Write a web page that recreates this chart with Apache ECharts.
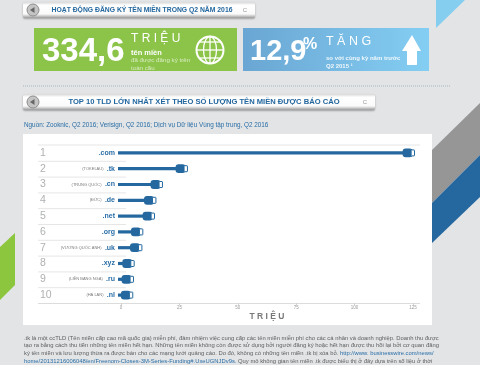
<!DOCTYPE html>
<html><head><meta charset="utf-8">
<script src="https://cdn.jsdelivr.net/npm/echarts@6/dist/echarts.min.js"></script>
<style>html,body{margin:0;padding:0;background:#e2e4e6}#c{width:480px;height:365px}</style></head>
<body><div id="c"></div>
<script>
var ranks = ['1','2','3','4','5','6','7','8','9','10'];
var tlds = ['.com','.tk','.cn','.de','.net','.org','.uk','.xyz','.ru','.nl'];
var notes = ['','(TOKELAU)','(TRUNG QUỐC)','(ĐỨC)','','','(VƯƠNG QUỐC ANH)','','(LIÊN BANG NGA)','(HÀ LAN)'];
var values = [125.9, 28.7, 18, 15.2, 14.6, 9.6, 9.2, 5.9, 5.6, 5.3];
var footerLines = [
 '.tk là một ccTLD (Tên miền cấp cao mã quốc gia) miễn phí, đảm nhiệm việc cung cấp các tên miền miễn phí cho các cá nhân và doanh nghiệp. Doanh thu được',
 'tạo ra bằng cách thu tiền những tên miền hết hạn. Những tên miền không còn được sử dụng bởi người đăng ký hoặc hết hạn được thu hồi lại bởi cơ quan đăng',
 'ký tên miền và lưu lượng thừa ra được bán cho các mạng lưới quảng cáo. Do đó, không có những tên miền .tk bị xóa bỏ. {l|http://www. businesswire.com/news/}',
 '{l|home/20131216006048/en/Freenom-Closes-3M-Series-Funding#.UxeUGNJDv9s.} Quy mô không gian tên miền .tk được biểu thị ở đây dựa trên số liệu ở thời'
];
var DARK='#24689f', F='"Liberation Sans",Arial,sans-serif', N='"Liberation Sans Narrow","Liberation Sans",sans-serif';

function T(x,y,s,size,color,o){o=o||{};return {type:'text',z:o.z||1,x:x,y:y,style:{text:s,fontSize:size,fill:color,fontFamily:o.ff||F,fontWeight:o.w||'normal',align:o.a||'left',verticalAlign:'middle',rich:o.rich}};}
function P(pts,c,z){return {type:'polygon',z:z||-2,shape:{points:pts},style:{fill:c}};}
function L(x1,y1,x2,y2,c,w,dash){return {type:'line',z:-1,shape:{x1:x1,y1:y1,x2:x2,y2:y2},style:{stroke:c,lineWidth:w||1,lineDash:dash}};}
function header(x,y,w,h,title,size,cx){
 var g={type:'linear',x:0,y:0,x2:0,y2:1,colorStops:[{offset:0,color:'#d8d8d8'},{offset:.2,color:'#ffffff'},{offset:.75,color:'#fafafa'},{offset:1,color:'#9a9a9a'}]};
 return [
  {type:'rect',z:-1,shape:{x:x,y:y,width:w,height:h,r:2},style:{fill:g,shadowColor:'rgba(0,0,0,.3)',shadowBlur:2,shadowOffsetY:1}},
  {type:'circle',z:1,shape:{cx:x+10,cy:y+h/2,r:6},style:{fill:'#c4c4c4',stroke:'#8e8e8e',lineWidth:1}},
  P([[x+7,y+h/2],[x+11.5,y+h/2-3],[x+11.5,y+h/2+3]],'#666',1),
  T(cx,y+h/2,title,size,'#23679f',{w:'bold',a:'center'}),
  T(x+w-10,y+h/2,'C',6,'#9a9a9a',{a:'center'})
 ];
}
var globeEls=[{type:'circle',z:1,shape:{cx:210,cy:50,r:13.5},style:{fill:'transparent',stroke:'#fff',lineWidth:2}},
 {type:'ellipse',z:1,shape:{cx:210,cy:50,rx:6.5,ry:13.5},style:{fill:'transparent',stroke:'#fff',lineWidth:1.3}},
 L(210,36.5,210,63.5,'#fff',1.3),L(196.5,50,223.5,50,'#fff',1.3),L(199,42,221,42,'#fff',1.3),L(199,58,221,58,'#fff',1.3)];
globeEls.slice(2).forEach(function(e){e.z=1;});

var graphic=[
 P([[436,0],[465,0],[436,28]],'#85cef0'),
 P([[432,150],[480,103],[480,155],[432,203]],'#969696'),
 P([[432,203],[480,155],[480,197],[432,243]],'#24689f'),
 P([[0,247],[15,233],[15,285],[0,300]],'#8cc63f'),
 {type:'rect',z:-1,shape:{x:23,y:134,width:409,height:191},style:{fill:'#fff'}},
 {type:'rect',z:-1,shape:{x:34,y:28,width:203,height:43},style:{fill:'#8bc449'}},
 {type:'rect',z:-1,shape:{x:243,y:28,width:186,height:43},style:{fill:{type:'linear',x:0,y:0,x2:1,y2:0,colorStops:[{offset:0,color:'#6aa6d3'},{offset:1,color:'#84cef3'}]}}},
 L(23,86,451,86,'#a9b4bc',1,[1,1]),
 T(42,52,'334,6',33,'#fff',{w:'bold'}),
 T(131,39,'T R I Ệ U',12,'#fff'),
 T(131,52.5,'tên miền',7.5,'#fff',{w:'bold'}),
 T(131,60.5,'đã được đăng ký trên',6.2,'#d8ecc0'),
 T(131,68,'toàn cầu',6.2,'#d8ecc0'),
 T(250,52,'12,9',29,'#fff',{w:'bold'}),
 T(303,45,'%',16,'#fff',{w:'bold'}),
 T(326,42,'T Ă N G',12.5,'#fff'),
 T(326,58,'so với cùng kỳ năm trước',6,'#eef7fc',{w:'bold'}),
 T(326,66,'Q2 2015 ¹',6,'#eef7fc',{w:'bold'}),
 P([[412,35],[421,51],[417,51],[417,65],[407,65],[407,51],[402,51]],'#fff',1),
 T(24,125.5,'Nguồn: Zooknic, Q2 2016; Verisign, Q2 2016; Dịch vụ Dữ liệu Vùng tập trung, Q2 2016',6.35,'#2a6ea6')
].concat(globeEls)
 .concat(header(23,2,232,16,'HOẠT ĐỘNG ĐĂNG KÝ TÊN MIỀN TRONG Q2 NĂM 2016',6.8,142))
 .concat(header(23,94,352,16,'TOP 10 TLD LỚN NHẤT XÉT THEO SỐ LƯỢNG TÊN MIỀN ĐƯỢC BÁO CÁO',7.6,204));

graphic.push(L(38,145,420,145,'#e6e6e6',1), L(38,303.5,420,303.5,'#dcdcdc',1));
for(var i=1;i<10;i++){graphic.push(L(38,145.5+15.8*i,126,145.5+15.8*i,'#e6e6e6',1));}
var fy=[338,345.7,353,361];
footerLines.forEach(function(s,i){graphic.push(T(24,fy[i],s,5.85,'#5f6062',{rich:{l:{fontSize:5.85,fill:'#2a6ea6',fontFamily:F}}}));});

var chart=echarts.init(document.getElementById('c'),null,{renderer:'canvas'});
chart.setOption({
 animation:false,
 backgroundColor:'#e2e4e6',
 graphic:graphic,
 grid:{left:121,right:67,top:145,bottom:62,containLabel:false},
 xAxis:{type:'value',min:0,max:125,interval:25,
  name:'T R I Ệ U',nameLocation:'middle',nameGap:9,
  nameTextStyle:{fontSize:8.5,color:'#77787a',fontFamily:F,fontWeight:'bold'},
  axisLine:{show:false},axisTick:{show:true,length:2,lineStyle:{color:'#d0d0d0'}},splitLine:{show:false},
  axisLabel:{fontSize:4.5,color:'#9a9a9a',margin:2,fontFamily:N}},
 yAxis:[
  {type:'category',inverse:true,data:tlds,axisLine:{show:false},axisTick:{show:false},
   axisLabel:{margin:6,interval:0,formatter:function(v,i){return (notes[i]?'{n|'+notes[i]+'} ':'')+'{t|'+v+'}';},
    rich:{n:{fontSize:4,color:'#7a7a7a',fontFamily:N},t:{fontSize:7,fontWeight:'bold',color:'#2a6ea6',fontFamily:F}}}},
  {type:'category',inverse:true,data:ranks,position:'left',axisLine:{show:false},axisTick:{show:false},
   axisLabel:{margin:81,align:'left',interval:0,fontSize:10.5,color:'#aeb0b2',fontFamily:N}}
 ],
 series:[{type:'custom',coordinateSystem:'cartesian2d',encode:{x:0,y:1},clip:false,z:3,
  data:values.map(function(v,i){return [v,i];}),
  renderItem:function(p,api){
   var a=api.coord([0,api.value(1)]),b=api.coord([api.value(0),api.value(1)]);
   var y=a[1],x0=a[0]-3,x1=b[0];
   return {type:'group',children:[
    {type:'rect',shape:{x:x0,y:y-1.6,width:x1-x0-6,height:3.2},style:{fill:DARK}},
    {type:'rect',shape:{x:x1-12.5,y:y-4.4,width:10,height:8.8,r:3},style:{fill:DARK}},
    {type:'rect',shape:{x:x1-4,y:y-3,width:3.4,height:6,r:.5},style:{fill:'#fff',stroke:DARK,lineWidth:1}}
   ]};
  }}]
});
</script></body></html>
